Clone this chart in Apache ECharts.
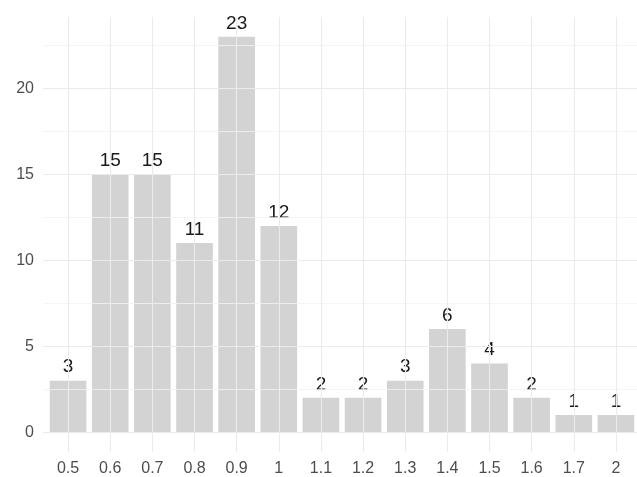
<!DOCTYPE html>
<html>
<head>
<meta charset="utf-8">
<script src="https://cdn.jsdelivr.net/npm/echarts@6/dist/echarts.min.js"></script>
<style>
  html, body { margin: 0; padding: 0; background: #ffffff; }
  #chart { width: 637px; height: 477px; }
</style>
</head>
<body>
<div id="chart"></div>
<script>
// Bin labels and counts
const categories = ['0.5', '0.6', '0.7', '0.8', '0.9', '1', '1.1', '1.2', '1.3', '1.4', '1.5', '1.6', '1.7', '2'];
const counts = [3, 15, 15, 11, 23, 12, 2, 2, 3, 6, 4, 2, 1, 1];

// Y axis: labelled major ticks and unlabelled minor grid lines
const yMajorTicks = [0, 5, 10, 15, 20];
const yMinorTicks = [2.5, 7.5, 12.5, 17.5, 22.5];

// Value range padded by 5% at both ends
const yMax = Math.max(...counts);
const yPad = yMax * 0.05;
const yMin = -yPad;
const yTop = yMax + yPad;

const gridColor = '#ebebeb';
const plotTop = 17;
const plotHeight = 435;
const fontFamily = 'Liberation Sans, Arial, sans-serif';

const chart = echarts.init(document.getElementById('chart'), null, { renderer: 'canvas' });

chart.setOption({
  animation: false,
  backgroundColor: '#ffffff',
  grid: [
    // panel background with horizontal grid lines
    { left: 43, width: 599, top: plotTop, height: plotHeight, containLabel: false },
    // bars area (discrete scale without the extra outer padding)
    { left: 47, width: 591, top: plotTop, height: plotHeight, containLabel: false }
  ],
  xAxis: [
    { gridIndex: 0, type: 'value', min: 0, max: 1, show: false },
    {
      gridIndex: 1,
      type: 'category',
      data: categories,
      axisLine: { show: false },
      axisTick: { show: false },
      splitLine: { show: false },
      axisLabel: {
        color: '#4d4d4d',
        fontSize: 16,
        fontFamily: fontFamily,
        margin: 9,
        interval: 0
      }
    }
  ],
  yAxis: [
    {
      gridIndex: 0,
      type: 'value',
      min: yMin,
      max: yTop,
      axisLine: { show: false },
      axisTick: { show: false },
      splitLine: { show: false },
      axisLabel: {
        customValues: yMajorTicks,
        color: '#4d4d4d',
        fontSize: 16,
        fontFamily: fontFamily,
        margin: 9
      }
    },
    {
      gridIndex: 1,
      type: 'value',
      min: yMin,
      max: yTop,
      show: false
    }
  ],
  series: [
    {
      // horizontal grid lines
      type: 'line',
      xAxisIndex: 0,
      yAxisIndex: 0,
      data: [],
      z: 0,
      silent: true,
      markLine: {
        silent: true,
        symbol: ['none', 'none'],
        label: { show: false },
        animation: false,
        data: yMajorTicks.map(v => ({ yAxis: v, lineStyle: { color: gridColor, width: 1.1, type: 'solid' } }))
          .concat(yMinorTicks.map(v => ({ yAxis: v, lineStyle: { color: '#f3f3f3', width: 0.8, type: 'solid' } })))
      }
    },
    {
      // vertical grid lines at each category
      type: 'line',
      xAxisIndex: 1,
      yAxisIndex: 1,
      data: [],
      z: 0,
      silent: true,
      markLine: {
        silent: true,
        symbol: ['none', 'none'],
        label: { show: false },
        animation: false,
        lineStyle: { color: gridColor, width: 1.1, type: 'solid' },
        data: categories.map(c => ({ xAxis: c }))
      }
    },
    {
      type: 'bar',
      xAxisIndex: 1,
      yAxisIndex: 1,
      data: counts,
      barWidth: '87%',
      z: 3,
      itemStyle: { color: '#d3d3d3' },
      label: {
        show: true,
        position: 'top',
        distance: 4,
        color: '#1a1a1a',
        fontSize: 19,
        fontFamily: fontFamily
      }
    }
  ]
});
</script>
</body>
</html>
